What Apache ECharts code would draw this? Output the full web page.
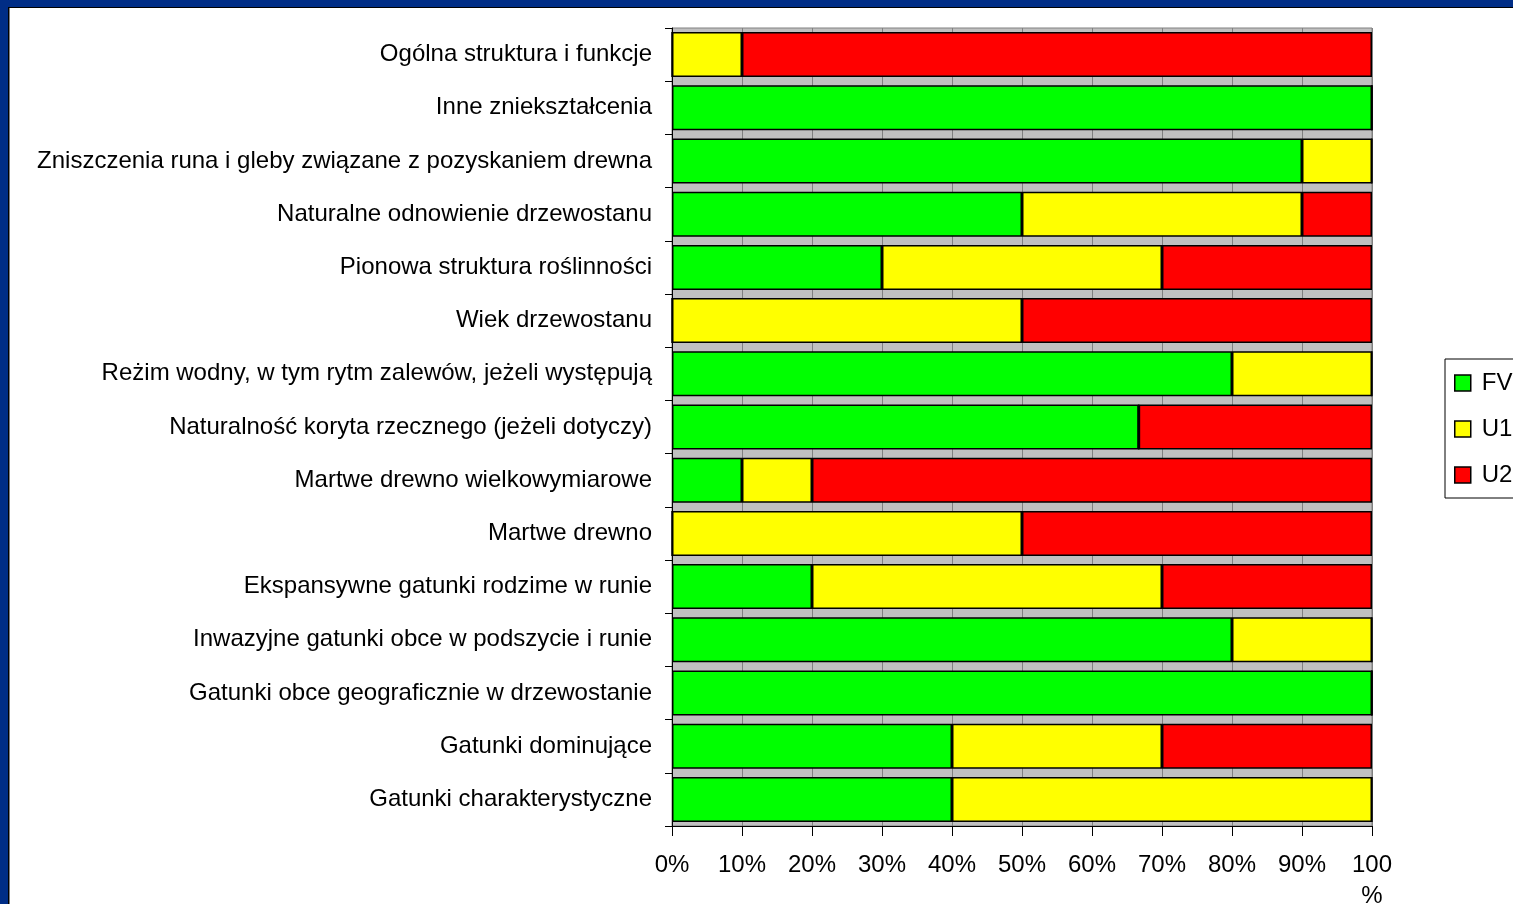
<!DOCTYPE html>
<html>
<head>
<meta charset="utf-8">
<script src="https://cdn.jsdelivr.net/npm/echarts@6/dist/echarts.min.js"></script>
<style>
  html, body { margin: 0; padding: 0; background: #fff; }
  #chart { width: 1513px; height: 904px; }
</style>
</head>
<body>
<div id="chart"></div>
<script>
// Assessment parameters, listed from the bottom of the chart to the top
const categories = [
  'Gatunki charakterystyczne',
  'Gatunki dominujące',
  'Gatunki obce geograficznie w drzewostanie',
  'Inwazyjne gatunki obce w podszycie i runie',
  'Ekspansywne gatunki rodzime w runie',
  'Martwe drewno',
  'Martwe drewno wielkowymiarowe',
  'Naturalność koryta rzecznego (jeżeli dotyczy)',
  'Reżim wodny, w tym rytm zalewów, jeżeli występują',
  'Wiek drzewostanu',
  'Pionowa struktura roślinności',
  'Naturalne odnowienie drzewostanu',
  'Zniszczenia runa i gleby związane z pozyskaniem drewna',
  'Inne zniekształcenia',
  'Ogólna struktura i funkcje'
];

// Share of sites (%) per conservation status
const fvValues = [40, 40, 100, 80, 20, 0, 10, 66.67, 80, 0, 30, 50, 90, 100, 0];
const u1Values = [60, 30, 0, 20, 50, 50, 10, 0, 20, 50, 40, 40, 10, 0, 10];
const u2Values = [0, 30, 0, 0, 30, 50, 80, 33.33, 0, 50, 30, 10, 0, 0, 90];

const seriesNames = ['FV', 'U1', 'U2'];
const seriesColors = ['#00FF00', '#FFFF00', '#FF0000'];
const xTicks = [0, 10, 20, 30, 40, 50, 60, 70, 80, 90, 100];

const FONT = '"Liberation Sans", Arial, sans-serif';
const frameBlue = '#002D86';

const chart = echarts.init(document.getElementById('chart'), null, { renderer: 'canvas' });

const makeSeries = (name, values, color) => ({
  name: name,
  type: 'bar',
  stack: 'total',
  data: values,
  barWidth: 45,
  itemStyle: { color: color, borderColor: '#000', borderWidth: 1.5 },
  emphasis: { disabled: true }
});

chart.setOption({
  animation: false,
  backgroundColor: '#fff',
  textStyle: { fontFamily: FONT },
  grid: {
    left: 672, right: 141, top: 28, bottom: 78,
    outerBoundsMode: 'none',
    containLabel: false,
    show: true, backgroundColor: '#C0C0C0', borderColor: '#808080', borderWidth: 1
  },
  xAxis: {
    type: 'value',
    min: xTicks[0],
    max: xTicks[xTicks.length - 1],
    interval: 10,
    axisLine: { show: true, lineStyle: { color: '#000', width: 1 } },
    axisTick: { show: true, length: 10, lineStyle: { color: '#000' } },
    splitLine: { show: true, lineStyle: { color: '#808080', width: 1 } },
    axisLabel: {
      color: '#000', fontSize: 24, fontFamily: FONT, margin: 24, lineHeight: 31,
      formatter: v => (v === 100 ? '100\n%' : v + '%')
    }
  },
  yAxis: {
    type: 'category',
    data: categories,
    axisLine: { show: true, lineStyle: { color: '#000', width: 1 } },
    axisTick: { show: true, length: 7, lineStyle: { color: '#000' } },
    splitLine: { show: false },
    axisLabel: { color: '#000', fontSize: 24, fontFamily: FONT, margin: 20, padding: [0, 0, 4, 0] }
  },
  legend: {
    orient: 'vertical',
    left: 1445, top: 359,
    padding: [12, 10, 11, 9],
    itemGap: 22,
    itemWidth: 16, itemHeight: 16,
    backgroundColor: '#fff',
    borderColor: '#000', borderWidth: 1,
    icon: 'rect',
    data: seriesNames,
    itemStyle: { borderColor: '#000', borderWidth: 1.5 },
    textStyle: { fontSize: 24, color: '#000', fontFamily: FONT, padding: [0, 0, 0, 6] }
  },
  graphic: [
    { type: 'rect', shape: { x: 0, y: 0, width: 1513, height: 7 }, style: { fill: frameBlue }, silent: true },
    { type: 'rect', shape: { x: 0, y: 0, width: 8, height: 904 }, style: { fill: frameBlue }, silent: true },
    { type: 'rect', shape: { x: 8, y: 7, width: 1505, height: 1 }, style: { fill: '#000' }, silent: true },
    { type: 'rect', shape: { x: 8, y: 7, width: 1, height: 897 }, style: { fill: '#000' }, silent: true },
    { type: 'rect', shape: { x: 9, y: 8, width: 1, height: 896 }, style: { fill: '#808080' }, silent: true }
  ],
  series: [
    makeSeries(seriesNames[0], fvValues, seriesColors[0]),
    makeSeries(seriesNames[1], u1Values, seriesColors[1]),
    makeSeries(seriesNames[2], u2Values, seriesColors[2])
  ]
});
</script>
</body>
</html>
